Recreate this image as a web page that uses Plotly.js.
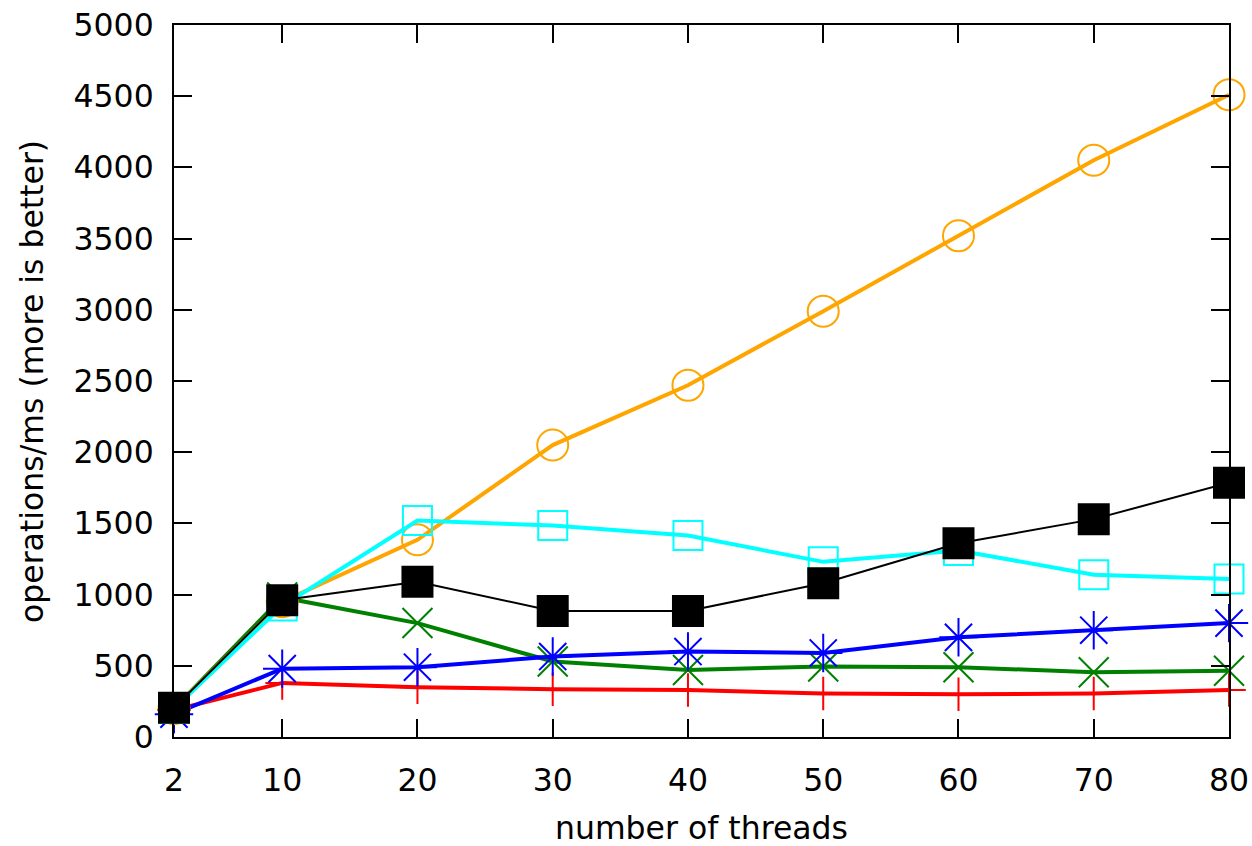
<!DOCTYPE html>
<html>
<head>
<meta charset="utf-8">
<script src="https://cdn.plot.ly/plotly-3.0.1.min.js"></script>
<style>
  html, body { margin: 0; padding: 0; background: #fff; }
  #chart { width: 1252px; height: 846px; }
</style>
</head>
<body>
<div id="chart"></div>
<script>
// Thread counts on the x axis
const threads = [2, 10, 20, 30, 40, 50, 60, 70, 80];
const xTickVals = [2, 10, 20, 30, 40, 50, 60, 70, 80];

// Throughput (operations/ms) for each implementation
const seriesRed    = [190, 380, 350, 335, 330, 305, 300, 305, 330];
const seriesGreen  = [200, 980, 800, 530, 470, 495, 490, 455, 465];
const seriesBlue   = [160, 480, 490, 565, 600, 590, 700, 750, 800];
const seriesOrange = [200, 950, 1385, 2050, 2470, 2990, 3520, 4050, 4510];
const seriesCyan   = [200, 920, 1520, 1485, 1415, 1230, 1310, 1140, 1110];
const seriesBlack  = [205, 960, 1090, 885, 885, 1080, 1360, 1530, 1785];

const xTitle = 'number of threads';
const yTitle = 'operations/ms (more is better)';

function lineTrace(y, color, width, symbol, size) {
  return {
    x: threads,
    y: y,
    type: 'scatter',
    mode: 'lines+markers',
    line: { color: color, width: width },
    marker: {
      symbol: symbol,
      size: size,
      color: color,
      line: { color: color, width: 2 }
    },
    cliponaxis: false,
    showlegend: false
  };
}

const data = [
  lineTrace(seriesRed,    '#ff0000', 4, 'cross-thin-open', 24),
  lineTrace(seriesGreen,  '#008000', 4, 'x-thin-open', 30),
  lineTrace(seriesBlue,   '#0000ff', 4, 'asterisk-open', 32),
  lineTrace(seriesOrange, '#ffa500', 4, 'circle-open', 31),
  lineTrace(seriesCyan,   '#00ffff', 4, 'square-open', 29),
  lineTrace(seriesBlack,  '#000000', 2, 'square', 30)
];

const font = { family: 'DejaVu Sans', size: 31.5, color: '#000' };

const axisCommon = {
  ticks: 'inside',
  ticklen: 18,
  tickwidth: 2,
  tickcolor: '#000',
  showline: true,
  linecolor: '#000',
  linewidth: 2,
  mirror: 'allticks',
  showgrid: false,
  zeroline: false
};

const layout = {
  width: 1252,
  height: 846,
  margin: { l: 174, r: 23, t: 25, b: 109 },
  paper_bgcolor: '#fff',
  plot_bgcolor: '#fff',
  font: font,
  xaxis: Object.assign({}, axisCommon, {
    range: [2, 80],
    tickmode: 'array',
    tickvals: xTickVals,
    ticktext: xTickVals.map(String),
    ticklabelstandoff: 14
  }),
  yaxis: Object.assign({}, axisCommon, {
    range: [0, 5000],
    tickmode: 'linear',
    tick0: 0,
    dtick: 500,
    ticklabelstandoff: 12
  }),
  annotations: [
    {
      text: xTitle, xref: 'paper', yref: 'paper',
      x: 0.5, y: -0.1278, xanchor: 'center', yanchor: 'middle',
      showarrow: false, font: font, borderpad: 0
    },
    {
      text: yTitle, xref: 'paper', yref: 'paper',
      x: -0.1346, y: 0.5, xanchor: 'center', yanchor: 'middle',
      textangle: -90, showarrow: false, font: font
    }
  ]
};

Plotly.newPlot('chart', data, layout, { displayModeBar: false, staticPlot: true });
</script>
</body>
</html>
